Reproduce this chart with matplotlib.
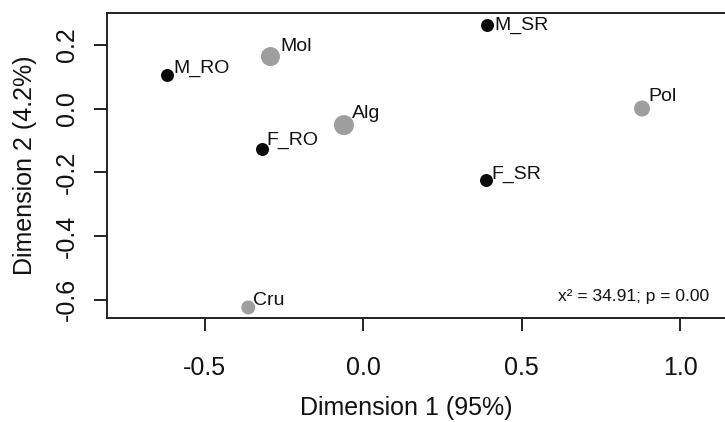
import matplotlib
matplotlib.use("Agg")
import matplotlib.pyplot as plt

plt.rcParams['font.family'] = ['Liberation Sans', 'DejaVu Sans']

# Row points (black)
row_labels = ["M_RO", "F_RO", "M_SR", "F_SR"]
row_x = [-0.62, -0.319, 0.39, 0.386]
row_y = [0.105, -0.126, 0.262, -0.225]

# Column points (gray)
col_labels = ["Mol", "Alg", "Pol", "Cru"]
col_x = [-0.293, -0.061, 0.88, -0.363]
col_y = [0.163, -0.052, 0.0, -0.624]
col_diam_px = [19, 20, 16, 14]

x_ticks = [-0.5, 0.0, 0.5, 1.0]
y_ticks = [0.2, 0.0, -0.2, -0.4, -0.6]
stat_text = "x\u00b2 = 34.91; p = 0.00"

# label offsets in pixels (dx, dy up) and vertical alignment
label_offsets = {
    "M_RO": (7, 2, 'baseline'), "F_RO": (4, 4, 'baseline'),
    "M_SR": (8, 0, 'center'), "F_SR": (6, 1, 'baseline'),
    "Mol": (10, 6, 'baseline'), "Alg": (8, 7, 'baseline'),
    "Pol": (6, 8, 'baseline'), "Cru": (5, 2, 'baseline'),
}

W, H = 725, 422
fig = plt.figure(figsize=(W / 100, H / 100), dpi=100)
left_px, right_px, top_px, bot_px = 107, 725, 13, 318.3
ax = fig.add_axes([left_px / W, 1 - bot_px / H, (right_px - left_px) / W, (bot_px - top_px) / H])

ax.set_xlim(-0.809, 1.142)
ax.set_ylim(-0.658, 0.2996)

black_px = 13
ax.scatter(row_x, row_y, s=(black_px * 0.72) ** 2, color='#0a0a0a', zorder=3, linewidths=0)
ax.scatter(col_x, col_y, s=[(d * 0.72) ** 2 for d in col_diam_px], color='#9e9e9e', zorder=3, linewidths=0)

for lab, x, y in list(zip(row_labels, row_x, row_y)) + list(zip(col_labels, col_x, col_y)):
    dx, dy, va = label_offsets[lab]
    ax.annotate(lab, (x, y), xytext=(dx, dy), textcoords='offset pixels',
                ha='left', va=va, fontsize=14, color='#111111')

ax.text(0.974, 0.07, stat_text, transform=ax.transAxes, ha='right', va='center',
        fontsize=12.5, color='#111111')

for s in ['left', 'top', 'bottom']:
    ax.spines[s].set_linewidth(1.4)
    ax.spines[s].set_color('#222222')
ax.spines['right'].set_visible(False)

ax.set_xticks(x_ticks)
ax.set_xticklabels([f"{v:.1f}" for v in x_ticks])
ax.set_yticks(y_ticks)
ax.set_yticklabels([f"{v:.1f}" for v in y_ticks], rotation=90, va='center')
ax.tick_params(axis='both', direction='out', length=9.4, width=1.4, color='#222222',
               labelsize=18, labelcolor='#111111')
ax.tick_params(axis='x', pad=18)
ax.tick_params(axis='y', pad=10.5)

ax.set_xlabel("Dimension 1 (95%)", fontsize=18, color='#111111', va='center')
ax.xaxis.set_label_coords((405.8 - left_px) / (right_px - left_px), (bot_px - 408) / (bot_px - top_px))
ax.set_ylabel("Dimension 2 (4.2%)", fontsize=18, color='#111111', va='center')
ax.yaxis.set_label_coords((25 - left_px) / (right_px - left_px), 0.5)

fig.savefig("out.png", dpi=100)
